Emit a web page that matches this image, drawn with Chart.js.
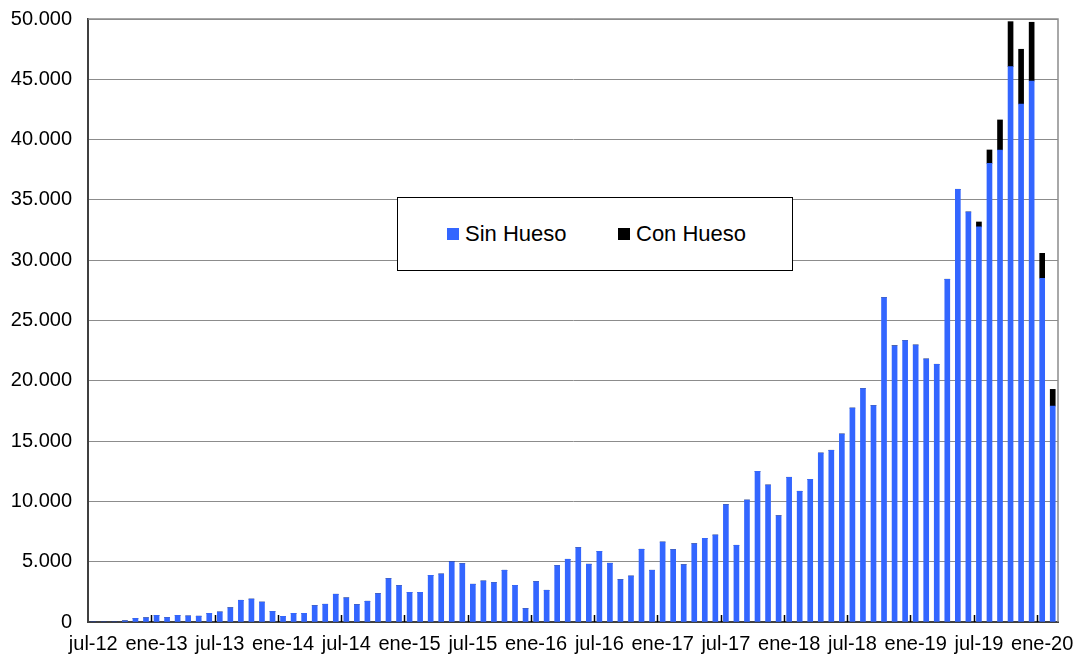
<!DOCTYPE html>
<html>
<head>
<meta charset="utf-8">
<script src="https://cdn.jsdelivr.net/npm/chart.js@4.4.1/dist/chart.umd.min.js"></script>
<style>
  html, body { margin: 0; padding: 0; background: #fff; }
  #wrap { position: relative; width: 1079px; height: 656px; }
  #legend {
    position: absolute; left: 397px; top: 197px; width: 394px; height: 72px;
    border: 1px solid #000; background: #fff;
    font-family: "Liberation Sans", Arial, sans-serif; font-size: 22px; color: #000;
  }
  #legend .txt { position: absolute; top: 24px; line-height: 24px; white-space: nowrap; }
  #legend .sw { position: absolute; top: 30px; width: 12px; height: 12px; }
</style>
</head>
<body>
<div id="wrap">
  <canvas id="chart" width="1079" height="656"></canvas>
  <div id="legend"></div>
</div>
<script>
// Meses (jul-12 .. feb-20)
var meses = [
  'jul-12','ago-12','sep-12','oct-12','nov-12','dic-12',
  'ene-13','feb-13','mar-13','abr-13','may-13','jun-13','jul-13','ago-13','sep-13','oct-13','nov-13','dic-13',
  'ene-14','feb-14','mar-14','abr-14','may-14','jun-14','jul-14','ago-14','sep-14','oct-14','nov-14','dic-14',
  'ene-15','feb-15','mar-15','abr-15','may-15','jun-15','jul-15','ago-15','sep-15','oct-15','nov-15','dic-15',
  'ene-16','feb-16','mar-16','abr-16','may-16','jun-16','jul-16','ago-16','sep-16','oct-16','nov-16','dic-16',
  'ene-17','feb-17','mar-17','abr-17','may-17','jun-17','jul-17','ago-17','sep-17','oct-17','nov-17','dic-17',
  'ene-18','feb-18','mar-18','abr-18','may-18','jun-18','jul-18','ago-18','sep-18','oct-18','nov-18','dic-18',
  'ene-19','feb-19','mar-19','abr-19','may-19','jun-19','jul-19','ago-19','sep-19','oct-19','nov-19','dic-19',
  'ene-20','feb-20'
];

// Sin Hueso, one value per month
var sinHueso = [
  0, 0, 0, 100, 300, 350,
  550, 370, 550, 500, 480, 720, 830, 1180, 1800, 1900, 1650, 880,
  470, 720, 720, 1360, 1470, 2300, 2000, 1440, 1720, 2350, 3600, 3020,
  2460, 2460, 3870, 3980, 5000, 4840, 3130, 3400, 3270, 4290, 3040, 1110,
  3350, 2630, 4680, 5200, 6170, 4790, 5860, 4870, 3510, 3810, 6030, 4290,
  6630, 6000, 4750, 6490, 6940, 7210, 9730, 6360, 10110, 12490, 11360, 8810,
  12000, 10840, 11830, 14010, 14240, 15590, 17740, 19350, 17940, 26900, 22910, 23330,
  22970, 21810, 21370, 28420, 35880, 34000, 32760, 38030, 39140, 46050, 42950, 44860,
  28500, 17910
];

// Con Hueso, only the last months have it
var conHueso = [
  0, 0, 0, 0, 0, 0,
  0, 0, 0, 0, 0, 0, 0, 0, 0, 0, 0, 0,
  0, 0, 0, 0, 0, 0, 0, 0, 0, 0, 0, 0,
  0, 0, 0, 0, 0, 0, 0, 0, 0, 0, 0, 0,
  0, 0, 0, 0, 0, 0, 0, 0, 0, 0, 0, 0,
  0, 0, 0, 0, 0, 0, 0, 0, 0, 0, 0, 0,
  0, 0, 0, 0, 0, 0, 0, 0, 0, 0, 0, 0,
  0, 0, 0, 0, 0, 0, 410, 1110, 2490, 3730, 4540, 4870,
  2070, 1380
];

var series = ['Sin Hueso', 'Con Hueso'];
var colores = ['#3366ff', '#000000'];

var fuente = { family: '"Liberation Sans", Arial, sans-serif', size: 20 };

function miles(v) {
  return String(v).replace(/\B(?=(\d{3})+(?!\d))/g, '.');
}

// small tick marks (inside) every 6 months + grey frame on top/right
var marcas = {
  id: 'marcas',
  afterDraw: function(chart) {
    var ctx = chart.ctx, x = chart.scales.x, a = chart.chartArea;
    var paso = (a.right - a.left) / meses.length;
    ctx.save();
    ctx.strokeStyle = '#8c8c8c';
    ctx.lineWidth = 1.5;
    ctx.beginPath();
    ctx.moveTo(a.left, a.top);
    ctx.lineTo(a.right, a.top);
    ctx.lineTo(a.right, a.bottom);
    ctx.stroke();
    ctx.strokeStyle = '#000';
    ctx.lineWidth = 1.5;
    for (var i = 6; i < meses.length; i += 6) {
      var px = Math.round(x.getPixelForTick(i) - paso / 2) + 0.5;
      ctx.beginPath();
      ctx.moveTo(px, a.bottom);
      ctx.lineTo(px, a.bottom - 7);
      ctx.stroke();
    }
    ctx.restore();
  }
};

var ctx = document.getElementById('chart').getContext('2d');
var chart = new Chart(ctx, {
  type: 'bar',
  data: {
    labels: meses,
    datasets: [
      { label: series[0], data: sinHueso, backgroundColor: colores[0], barThickness: 5, borderWidth: 0 },
      { label: series[1], data: conHueso, backgroundColor: colores[1], barThickness: 5, borderWidth: 0 }
    ]
  },
  options: {
    responsive: false,
    animation: false,
    layout: { padding: { top: 19, right: 21, left: 0, bottom: 0 } },
    plugins: {
      legend: { display: false },
      tooltip: { enabled: false }
    },
    scales: {
      x: {
        stacked: true,
        offset: true,
        grid: { display: true, drawOnChartArea: false, drawTicks: false },
        border: { color: '#404040', width: 2 },
        ticks: {
          autoSkip: false, maxRotation: 0, minRotation: 0, padding: 10,
          color: '#000', font: fuente,
          callback: function(v, i) { return i % 6 === 0 ? meses[i] : ''; }
        },
        afterFit: function(s) { s.height = 34; s.paddingLeft = 0; s.paddingRight = 0; }
      },
      y: {
        stacked: true,
        min: 0, max: 50000,
        grid: { color: '#8c8c8c', lineWidth: 1, drawTicks: false },
        border: { color: '#404040', width: 2 },
        ticks: {
          stepSize: 5000, padding: 16, color: '#000', font: fuente,
          callback: function(v) { return miles(v); }
        },
        afterFit: function(s) { s.width = 88; s.paddingTop = 0; s.paddingBottom = 0; }
      }
    }
  },
  plugins: [marcas]
});

// legend box in the middle of the plot
var leg = document.getElementById('legend');
var pos = [[49, 67], [220, 238]];
series.forEach(function(nombre, k) {
  var sw = document.createElement('span');
  sw.className = 'sw';
  sw.style.left = pos[k][0] + 'px';
  sw.style.background = colores[k];
  leg.appendChild(sw);
  var t = document.createElement('span');
  t.className = 'txt';
  t.style.left = pos[k][1] + 'px';
  t.textContent = nombre;
  leg.appendChild(t);
});
</script>
</body>
</html>
